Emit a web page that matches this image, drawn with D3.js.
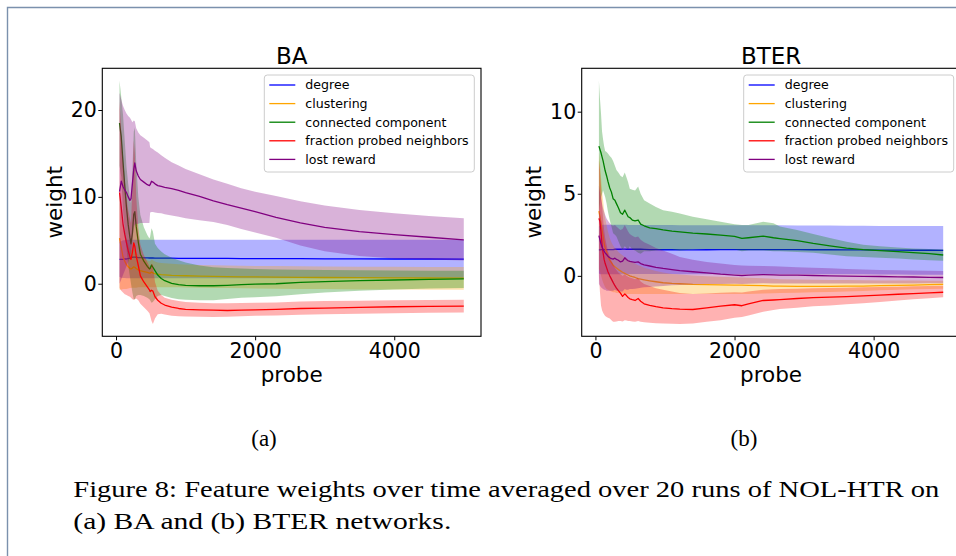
<!DOCTYPE html>
<html><head><meta charset="utf-8">
<script src="https://cdn.jsdelivr.net/npm/d3@7"></script>
<style>
html,body{margin:0;padding:0;background:#fff;}
svg{display:block;}
</style></head>
<body>
<svg id="fig" width="956" height="556"></svg>
<script>
// ---------------- DATA ----------------
const seriesNames = ["degree", "clustering", "connected component", "fraction probed neighbors", "lost reward"];
const xTicks = [0, 2000, 4000];
const baYTicks = [0, 10, 20];
const bterYTicks = [0, 5, 10];

// BA panel
const baProbe = [50, 75, 100, 125, 150, 175, 200, 215, 235, 255, 270, 290, 320, 350, 400, 450, 480, 490, 510, 530, 560, 600, 650, 700, 800, 900, 1000, 1200, 1400, 1600, 1800, 2000, 2300, 2650, 3000, 3500, 4000, 4500, 5000];
const baDegree   = [2.8, 2.8, 2.8, 2.85, 2.85, 2.9, 2.95, 3.0, 3.05, 3.07, 3.07, 3.05, 3.0, 3.0, 2.98, 2.97, 2.96, 2.96, 2.96, 2.96, 2.95, 2.95, 2.95, 2.94, 2.94, 2.93, 2.93, 2.92, 2.92, 2.91, 2.9, 2.9, 2.89, 2.88, 2.87, 2.86, 2.85, 2.85, 2.84];
const baDegreeHi = [4.8, 4.9, 5.0, 5.0, 5.05, 5.05, 5.06, 5.06, 5.06, 5.06, 5.06, 5.06, 5.06, 5.06, 5.06, 5.06, 5.06, 5.06, 5.06, 5.06, 5.06, 5.06, 5.06, 5.06, 5.06, 5.06, 5.06, 5.06, 5.06, 5.06, 5.06, 5.06, 5.06, 5.06, 5.06, 5.06, 5.06, 5.06, 5.06];
const baDegreeLo = [0.8, 0.7, 0.65, 0.65, 0.62, 0.62, 0.62, 0.62, 0.62, 0.62, 0.62, 0.62, 0.62, 0.62, 0.62, 0.62, 0.62, 0.62, 0.62, 0.62, 0.62, 0.62, 0.62, 0.62, 0.62, 0.62, 0.62, 0.62, 0.62, 0.62, 0.62, 0.62, 0.62, 0.62, 0.62, 0.62, 0.62, 0.62, 0.62];
const baClustering   = [5.25, 4.2, 3.1, 2.6, 2.2, 1.95, 1.75, 1.7, 1.8, 1.95, 1.9, 1.75, 1.6, 1.5, 1.4, 1.3, 1.22, 1.22, 1.35, 1.25, 1.15, 1.1, 1.05, 1.02, 0.97, 0.94, 0.92, 0.88, 0.85, 0.82, 0.8, 0.78, 0.76, 0.74, 0.72, 0.7, 0.68, 0.66, 0.65];
const baClusteringHi = [11.0, 8.8, 7.0, 6.0, 5.2, 4.6, 4.1, 3.9, 3.9, 4.0, 3.9, 3.6, 3.3, 3.1, 2.9, 2.7, 2.6, 2.6, 2.8, 2.7, 2.55, 2.45, 2.4, 2.35, 2.3, 2.25, 2.2, 2.15, 2.12, 2.1, 2.07, 2.05, 2.03, 2.0, 1.98, 1.96, 1.95, 1.93, 1.92];
const baClusteringLo = [-0.7, -0.7, -0.6, -0.6, -0.6, -0.55, -0.5, -0.5, -0.45, -0.45, -0.45, -0.45, -0.4, -0.4, -0.4, -0.4, -0.4, -0.4, -0.4, -0.4, -0.4, -0.4, -0.4, -0.4, -0.4, -0.4, -0.42, -0.45, -0.48, -0.5, -0.52, -0.55, -0.58, -0.6, -0.62, -0.65, -0.67, -0.69, -0.7];
const baConnected   = [18.5, 16.9, 14.0, 11.3, 8.8, 6.8, 5.3, 4.6, 5.8, 8.0, 8.3, 6.6, 4.8, 3.4, 2.6, 2.0, 1.7, 1.75, 2.15, 1.9, 1.5, 1.0, 0.6, 0.35, 0.05, -0.1, -0.18, -0.23, -0.23, -0.18, -0.1, -0.05, 0.0, 0.15, 0.25, 0.35, 0.43, 0.5, 0.56];
const baConnectedHi = [23.4, 21.5, 19.5, 16.5, 13.5, 11.5, 9.8, 9.3, 13.0, 17.5, 18.0, 14.0, 10.0, 7.9, 6.5, 5.6, 5.2, 5.4, 6.4, 6.0, 4.6, 4.1, 3.7, 3.4, 3.0, 2.7, 2.45, 2.1, 1.9, 1.8, 1.75, 1.7, 1.65, 1.6, 1.58, 1.55, 1.52, 1.5, 1.5];
const baConnectedLo = [13.6, 12.3, 8.5, 6.1, 4.1, 2.1, 0.8, 0.0, -1.0, -1.8, -1.8, -1.4, -1.3, -1.3, -1.4, -1.6, -1.8, -1.9, -2.2, -2.1, -1.8, -1.4, -1.3, -1.4, -1.65, -1.8, -1.85, -1.9, -1.9, -1.75, -1.62, -1.55, -1.45, -1.2, -1.0, -0.8, -0.65, -0.55, -0.5];
const baFraction   = [10.5, 8.8, 6.9, 5.7, 4.7, 3.8, 3.1, 2.8, 3.6, 4.7, 4.3, 3.2, 2.1, 0.9, 0.2, -0.35, -0.7, -0.9, -0.75, -0.85, -1.5, -1.9, -2.25, -2.45, -2.7, -2.85, -2.95, -3.0, -3.05, -3.08, -3.05, -3.0, -2.95, -2.85, -2.8, -2.72, -2.65, -2.6, -2.58];
const baFractionHi = [21.0, 17.5, 14.5, 12.0, 10.0, 8.5, 7.5, 7.0, 11.0, 16.5, 15.0, 10.0, 6.5, 4.5, 3.3, 2.5, 2.0, 1.7, 2.3, 2.2, 0.2, -0.8, -1.3, -1.6, -1.85, -2.0, -2.1, -2.2, -2.25, -2.25, -2.22, -2.2, -2.15, -2.05, -2.0, -1.95, -1.9, -1.87, -1.84];
const baFractionLo = [-0.5, -0.8, -1.0, -1.2, -1.3, -1.4, -1.5, -1.6, -1.8, -1.85, -1.8, -1.7, -1.9, -2.3, -2.7, -3.1, -3.4, -3.7, -4.3, -4.65, -4.0, -3.5, -3.45, -3.55, -3.7, -3.75, -3.78, -3.8, -3.82, -3.8, -3.75, -3.7, -3.65, -3.56, -3.5, -3.45, -3.4, -3.35, -3.3];
const baLost   = [10.6, 11.8, 11.2, 10.8, 10.5, 10.0, 9.6, 9.8, 11.5, 13.2, 13.9, 13.0, 12.4, 12.0, 11.7, 11.4, 11.3, 11.4, 11.8, 11.7, 11.5, 11.3, 11.2, 11.1, 10.95, 10.75, 10.5, 10.05, 9.55, 9.1, 8.7, 8.3, 7.65, 7.0, 6.5, 6.0, 5.65, 5.35, 5.06];
const baLostHi = [22.0, 21.2, 20.5, 20.0, 19.6, 19.3, 19.1, 18.9, 18.6, 18.8, 18.7, 17.9, 17.4, 17.1, 16.8, 16.5, 16.3, 15.7, 15.6, 15.5, 15.3, 15.1, 14.8, 14.5, 14.0, 13.6, 13.2, 12.6, 12.0, 11.5, 11.0, 10.6, 10.1, 9.5, 9.0, 8.5, 8.1, 7.8, 7.55];
const baLostLo = [0.0, 0.5, 1.0, 1.5, 2.0, 2.5, 3.0, 3.5, 5.0, 6.5, 6.8, 6.9, 6.9, 7.0, 7.0, 7.0, 7.0, 8.2, 8.25, 8.25, 8.2, 8.15, 8.1, 8.0, 7.85, 7.7, 7.55, 7.3, 7.1, 6.75, 6.3, 5.9, 5.3, 4.4, 3.75, 3.2, 2.9, 2.78, 2.68];

// BTER panel
const bterProbe = [50, 65, 80, 95, 110, 125, 140, 160, 180, 206, 230, 254, 280, 302, 330, 360, 390, 422, 446, 470, 494, 530, 570, 614, 650, 700, 780, 870, 973, 1100, 1213, 1400, 1600, 1800, 2000, 2106, 2200, 2412, 2560, 2652, 2900, 3131, 3371, 3611, 3850, 4092, 4350, 4570, 4800, 5000];
const bterDegree   = [1.58, 1.58, 1.6, 1.6, 1.6, 1.6, 1.6, 1.6, 1.6, 1.6, 1.6, 1.6, 1.62, 1.62, 1.62, 1.62, 1.63, 1.63, 1.62, 1.62, 1.62, 1.62, 1.62, 1.62, 1.62, 1.61, 1.6, 1.6, 1.59, 1.59, 1.58, 1.58, 1.59, 1.6, 1.6, 1.6, 1.6, 1.6, 1.6, 1.6, 1.6, 1.59, 1.59, 1.58, 1.58, 1.57, 1.57, 1.56, 1.56, 1.55];
const bterDegreeHi = [3.0, 3.05, 3.1, 3.1, 3.12, 3.12, 3.12, 3.12, 3.12, 3.12, 3.12, 3.12, 3.12, 3.12, 3.12, 3.12, 3.12, 3.12, 3.12, 3.1, 3.1, 3.1, 3.1, 3.1, 3.1, 3.1, 3.1, 3.1, 3.1, 3.1, 3.08, 3.08, 3.08, 3.08, 3.08, 3.08, 3.08, 3.08, 3.08, 3.08, 3.07, 3.06, 3.06, 3.05, 3.05, 3.04, 3.04, 3.03, 3.03, 3.03];
const bterDegreeLo = [0.15, 0.12, 0.1, 0.1, 0.1, 0.1, 0.1, 0.1, 0.1, 0.1, 0.1, 0.1, 0.1, 0.1, 0.1, 0.1, 0.1, 0.1, 0.1, 0.1, 0.12, 0.12, 0.12, 0.12, 0.12, 0.12, 0.12, 0.12, 0.12, 0.12, 0.1, 0.1, 0.1, 0.1, 0.1, 0.1, 0.1, 0.1, 0.1, 0.1, 0.1, 0.1, 0.1, 0.1, 0.1, 0.08, 0.08, 0.07, 0.07, 0.07];
const bterClustering   = [3.94, 3.6, 3.2, 2.8, 2.4, 2.0, 1.7, 1.45, 1.2, 0.95, 0.8, 0.65, 0.55, 0.48, 0.38, 0.3, 0.22, 0.15, 0.1, 0.05, 0.0, -0.05, -0.1, -0.17, -0.2, -0.24, -0.3, -0.36, -0.42, -0.46, -0.48, -0.52, -0.54, -0.55, -0.56, -0.57, -0.58, -0.6, -0.62, -0.63, -0.64, -0.64, -0.64, -0.63, -0.62, -0.6, -0.58, -0.56, -0.54, -0.52];
const bterClusteringHi = [7.5, 6.9, 6.0, 5.2, 4.6, 4.0, 3.5, 3.1, 2.7, 2.3, 2.05, 1.85, 1.7, 1.6, 1.45, 1.35, 1.25, 1.15, 1.1, 1.0, 0.95, 0.85, 0.75, 0.65, 0.6, 0.5, 0.4, 0.3, 0.2, 0.12, 0.08, 0.02, -0.02, -0.05, -0.08, -0.1, -0.12, -0.15, -0.18, -0.2, -0.22, -0.24, -0.25, -0.26, -0.27, -0.28, -0.28, -0.29, -0.3, -0.3];
const bterClusteringLo = [0.4, 0.3, 0.0, -0.2, -0.4, -0.55, -0.7, -0.8, -0.85, -0.9, -0.95, -1.0, -1.0, -1.05, -1.05, -1.08, -1.08, -1.1, -1.1, -1.1, -1.1, -1.1, -1.1, -1.1, -1.1, -1.1, -1.1, -1.1, -1.1, -1.1, -1.1, -1.1, -1.1, -1.1, -1.1, -1.1, -1.1, -1.08, -1.06, -1.05, -1.03, -1.0, -0.98, -0.95, -0.92, -0.88, -0.85, -0.82, -0.8, -0.78];
const bterConnected   = [7.9, 7.7, 7.5, 7.25, 7.0, 6.7, 6.4, 6.1, 5.75, 5.35, 5.1, 4.7, 4.6, 4.4, 4.15, 3.85, 3.75, 4.0, 3.8, 3.6, 3.55, 3.4, 3.35, 3.4, 3.15, 3.05, 2.92, 2.88, 2.8, 2.72, 2.68, 2.6, 2.55, 2.48, 2.4, 2.28, 2.32, 2.42, 2.32, 2.27, 2.15, 1.98, 1.83, 1.69, 1.6, 1.54, 1.47, 1.42, 1.35, 1.27];
const bterConnectedHi = [11.9, 10.8, 9.9, 8.8, 8.3, 7.9, 7.6, 7.55, 7.45, 7.3, 7.2, 7.0, 6.7, 6.45, 6.3, 6.1, 6.0, 6.3, 6.0, 5.7, 5.3, 5.25, 5.2, 5.45, 5.0, 4.6, 4.4, 4.2, 4.0, 3.9, 3.8, 3.6, 3.45, 3.3, 3.15, 3.1, 3.1, 3.3, 3.2, 3.0, 2.8, 2.55, 2.3, 2.07, 1.9, 1.8, 1.72, 1.67, 1.64, 1.62];
const bterConnectedLo = [3.9, 4.4, 4.8, 5.0, 5.2, 5.0, 4.8, 4.4, 3.9, 3.4, 3.0, 2.6, 2.5, 2.4, 2.1, 1.8, 1.6, 1.8, 1.7, 1.6, 1.8, 1.6, 1.55, 1.4, 1.35, 1.5, 1.5, 1.55, 1.6, 1.6, 1.55, 1.6, 1.62, 1.6, 1.6, 1.5, 1.55, 1.55, 1.5, 1.5, 1.45, 1.4, 1.3, 1.2, 1.15, 1.1, 1.05, 1.0, 0.95, 0.92];
const bterFraction   = [3.5, 3.3, 2.7, 1.9, 1.4, 1.0, 0.75, 0.5, 0.25, 0.0, -0.2, -0.4, -0.6, -0.75, -0.9, -1.05, -1.25, -1.1, -1.2, -1.32, -1.4, -1.45, -1.5, -1.38, -1.55, -1.7, -1.8, -1.88, -1.95, -2.0, -2.03, -2.05, -1.95, -1.84, -1.76, -1.82, -1.7, -1.5, -1.47, -1.45, -1.38, -1.33, -1.3, -1.26, -1.22, -1.17, -1.12, -1.08, -1.04, -1.0];
const bterFractionHi = [7.0, 6.5, 5.5, 4.3, 3.5, 2.8, 2.3, 1.9, 1.5, 1.2, 0.9, 0.7, 0.5, 0.35, 0.2, 0.1, 0.0, 0.1, 0.0, -0.05, -0.1, -0.15, -0.2, -0.15, -0.35, -0.5, -0.62, -0.75, -0.85, -0.95, -1.05, -1.1, -1.08, -1.03, -1.0, -1.02, -0.95, -0.85, -0.82, -0.8, -0.78, -0.76, -0.74, -0.72, -0.7, -0.68, -0.66, -0.64, -0.62, -0.6];
const bterFractionLo = [0.0, -1.0, -1.8, -2.1, -2.25, -2.35, -2.45, -2.5, -2.55, -2.6, -2.7, -2.8, -2.8, -2.78, -2.75, -2.75, -2.78, -2.7, -2.72, -2.75, -2.75, -2.78, -2.8, -2.75, -2.8, -2.83, -2.86, -2.88, -2.9, -2.92, -2.94, -2.9, -2.8, -2.7, -2.55, -2.5, -2.42, -2.18, -2.08, -2.02, -1.95, -1.85, -1.8, -1.73, -1.67, -1.6, -1.5, -1.43, -1.37, -1.31];
const bterLost   = [2.45, 2.2, 1.95, 1.75, 1.6, 1.5, 1.4, 1.3, 1.2, 1.1, 1.05, 1.02, 1.08, 1.0, 0.95, 0.85, 0.9, 1.1, 1.0, 0.92, 0.88, 0.85, 0.82, 0.85, 0.75, 0.67, 0.6, 0.52, 0.45, 0.38, 0.32, 0.25, 0.18, 0.1, 0.05, 0.02, 0.05, 0.08, 0.06, 0.05, 0.04, 0.02, 0.0, -0.02, -0.03, -0.04, -0.06, -0.07, -0.09, -0.1];
const bterLostHi = [5.5, 5.1, 4.7, 4.4, 4.1, 3.9, 3.7, 3.5, 3.35, 3.2, 3.1, 3.05, 3.1, 3.0, 2.9, 2.8, 2.85, 3.1, 2.9, 2.7, 2.55, 2.45, 2.35, 2.4, 2.2, 2.05, 1.9, 1.7, 1.55, 1.35, 1.15, 0.98, 0.85, 0.75, 0.66, 0.63, 0.62, 0.6, 0.58, 0.57, 0.53, 0.5, 0.46, 0.42, 0.38, 0.36, 0.34, 0.32, 0.31, 0.3];
const bterLostLo = [-0.5, -0.6, -0.7, -0.75, -0.8, -0.85, -0.85, -0.9, -0.9, -0.9, -0.9, -0.9, -0.85, -0.9, -0.9, -0.95, -0.95, -0.8, -0.85, -0.85, -0.8, -0.8, -0.78, -0.75, -0.72, -0.7, -0.68, -0.65, -0.62, -0.58, -0.55, -0.52, -0.5, -0.5, -0.48, -0.5, -0.48, -0.45, -0.46, -0.46, -0.46, -0.46, -0.46, -0.46, -0.46, -0.46, -0.46, -0.46, -0.45, -0.45];

// ---------------- DRAWING ----------------
const seriesColors = ["#0000ff", "#ffa500", "#008000", "#ff0000", "#800080"];
const svg = d3.select("#fig");
svg.append("rect").attr("width", 956).attr("height", 556).attr("fill", "#fff");
svg.append("path").attr("d", "M7.5,556 V7.5 H956").attr("fill", "none")
  .attr("stroke", "#7b91ad").attr("stroke-width", 1.4);

const SANS = "DejaVu Sans, sans-serif";
const SERIF = "Liberation Serif, Times New Roman, serif";

function paddedExtent(arrs) {
  let lo = d3.min(arrs, a => d3.min(a)), hi = d3.max(arrs, a => d3.max(a));
  const m = (hi - lo) * 0.05;
  return [lo - m, hi + m];
}

function drawPanel(cfg, idx) {
  const left = cfg.left, top = 68.3, width = 378.7, height = 268;
  const g = svg.append("g");
  const x = d3.scaleLinear().domain(paddedExtent([cfg.probe])).range([left, left + width]);
  const allY = [];
  cfg.series.forEach(s => { allY.push(s.lo, s.hi, s.mean); });
  const y = d3.scaleLinear().domain(paddedExtent(allY)).range([top + height, top]);

  const clipId = "clip" + idx;
  svg.append("clipPath").attr("id", clipId).append("rect")
    .attr("x", left).attr("y", top).attr("width", width).attr("height", height);
  const plot = g.append("g").attr("clip-path", `url(#${clipId})`);
  const idxs = d3.range(cfg.probe.length);

  cfg.series.forEach((s, k) => {
    const area = d3.area().x(i => x(cfg.probe[i])).y0(i => y(s.lo[i])).y1(i => y(s.hi[i]));
    plot.append("path").attr("d", area(idxs)).attr("fill", seriesColors[k]).attr("fill-opacity", 0.3);
    const line = d3.line().x(i => x(cfg.probe[i])).y(i => y(s.mean[i]));
    plot.append("path").attr("d", line(idxs)).attr("fill", "none")
      .attr("stroke", seriesColors[k]).attr("stroke-width", 1.3).attr("stroke-linejoin", "round");
  });

  // axes
  const xa = g.append("g").attr("transform", `translate(0,${top + height})`)
    .call(d3.axisBottom(x).tickValues(xTicks).tickSize(4).tickPadding(3).tickFormat(d3.format("d")));
  const ya = g.append("g").attr("transform", `translate(${left},0)`)
    .call(d3.axisLeft(y).tickValues(cfg.yTicks).tickSize(4).tickPadding(1.5).tickFormat(d3.format("d")));
  [xa, ya].forEach(a => {
    a.select(".domain").remove();
    a.selectAll("line").attr("stroke", "#000").attr("stroke-width", 1);
    a.selectAll("text").attr("fill", "#000").attr("font-family", SANS).attr("font-size", 20.5);
  });
  g.append("rect").attr("x", left).attr("y", top).attr("width", width).attr("height", height)
    .attr("fill", "none").attr("stroke", "#000").attr("stroke-width", 1.1);

  // title and labels
  g.append("text").attr("x", left + width / 2).attr("y", 64.3).attr("text-anchor", "middle")
    .attr("font-family", SANS).attr("font-size", 23).text(cfg.title);
  g.append("text").attr("x", left + width / 2).attr("y", 381.5).attr("text-anchor", "middle")
    .attr("font-family", SANS).attr("font-size", 21.5).text("probe");
  g.append("text").attr("transform", `translate(${left - 40.5},${top + height / 2}) rotate(-90)`)
    .attr("text-anchor", "middle").attr("font-family", SANS).attr("font-size", 21.5).text("weight");

  // legend
  const lx = left + width - 6.7 - 210, ly = 75;
  const lg = g.append("g");
  lg.append("rect").attr("x", lx).attr("y", ly).attr("width", 210).attr("height", 97)
    .attr("rx", 3).attr("fill", "#fff").attr("fill-opacity", 0.8)
    .attr("stroke", "#cccccc").attr("stroke-width", 1);
  seriesNames.forEach((name, k) => {
    const cy = ly + 10 + k * 18.6;
    lg.append("line").attr("x1", lx + 5).attr("x2", lx + 31).attr("y1", cy).attr("y2", cy)
      .attr("stroke", seriesColors[k]).attr("stroke-width", 1.3);
    lg.append("text").attr("x", lx + 41).attr("y", cy).attr("dy", "0.35em")
      .attr("font-family", SANS).attr("font-size", 12.6).attr("fill", "#000").text(name);
  });
}

drawPanel({
  left: 102.3, title: "BA", probe: baProbe, yTicks: baYTicks,
  series: [
    { mean: baDegree, lo: baDegreeLo, hi: baDegreeHi },
    { mean: baClustering, lo: baClusteringLo, hi: baClusteringHi },
    { mean: baConnected, lo: baConnectedLo, hi: baConnectedHi },
    { mean: baFraction, lo: baFractionLo, hi: baFractionHi },
    { mean: baLost, lo: baLostLo, hi: baLostHi }
  ]
}, 0);

drawPanel({
  left: 581.7, title: "BTER", probe: bterProbe, yTicks: bterYTicks,
  series: [
    { mean: bterDegree, lo: bterDegreeLo, hi: bterDegreeHi },
    { mean: bterClustering, lo: bterClusteringLo, hi: bterClusteringHi },
    { mean: bterConnected, lo: bterConnectedLo, hi: bterConnectedHi },
    { mean: bterFraction, lo: bterFractionLo, hi: bterFractionHi },
    { mean: bterLost, lo: bterLostLo, hi: bterLostHi }
  ]
}, 1);

// captions
function capText(x, y, s, anchor, len) {
  const t = svg.append("text").attr("x", x).attr("y", y).attr("text-anchor", anchor)
    .attr("font-family", SERIF).attr("font-size", 23).attr("fill", "#000").text(s);
  if (len) t.attr("textLength", len).attr("lengthAdjust", "spacingAndGlyphs");
  return t;
}
capText(264, 446, "(a)", "middle");
capText(744, 446, "(b)", "middle");
capText(73.3, 497.3, "Figure 8: Feature weights over time averaged over 20 runs of NOL-HTR on", "start", 866);
capText(73.3, 529.3, "(a) BA and (b) BTER networks.", "start", 378);
</script>
</body></html>
